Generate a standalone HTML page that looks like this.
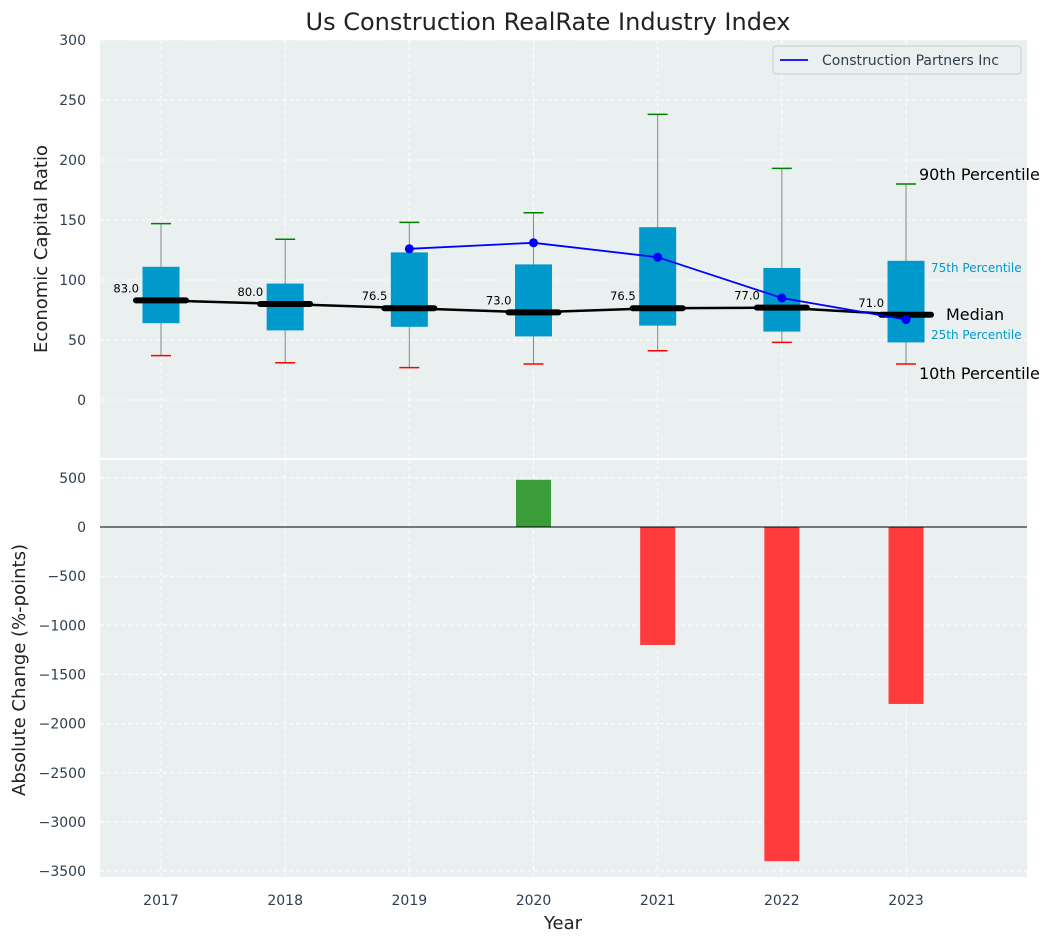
<!DOCTYPE html>
<html><head><meta charset="utf-8"><style>
body{margin:0;background:#fff;}
svg text{font-family:"DejaVu Sans","Liberation Sans",sans-serif;}
</style></head><body>
<svg id="chart" width="1054" height="942" xmlns="http://www.w3.org/2000/svg"></svg>
<script>
const years=[2017,2018,2019,2020,2021,2022,2023];
const p10=[37,31,27,30,41,48,30];
const q1=[64,58,61,53,62,57,48];
const med=[83,80,76.5,73,76.5,77,71];
const q3=[111,97,123,113,144,110,116];
const p90=[147,134,148,156,238,193,180];
const compYears=[2019,2020,2021,2022,2023];
const compVals=[126,131,119,85,67];
const chgYears=[2020,2021,2022,2023];
const chgVals=[480,-1200,-3400,-1800];
const topTicks=[0,50,100,150,200,250,300];
const botTicks=[500,0,-500,-1000,-1500,-2000,-2500,-3000,-3500];

const NS='http://www.w3.org/2000/svg';
const svg=document.getElementById('chart');
function el(t,a,p){const e=document.createElementNS(NS,t);for(const k in a)e.setAttribute(k,a[k]);(p||svg).appendChild(e);return e;}
const L=100,R=1027;
const x=v=>161+(v-2017)*124.17;
const yT=v=>400-v*1.2;
const yB=v=>527-v*0.0983;

// backgrounds
let e=el('rect',{x:L,y:40,width:R-L,height:418,fill:'#eaeff0'});

e=el('rect',{x:L,y:460,width:R-L,height:417,fill:'#eaeff0'});


// grids
years.forEach(v=>{
 el('line',{x1:x(v),x2:x(v),y1:40,y2:458,stroke:'#fff','stroke-dasharray':'4,3'});
 el('line',{x1:x(v),x2:x(v),y1:460,y2:877,stroke:'#fff','stroke-dasharray':'4,3'});
 e=el('text',{x:x(v),y:905,'text-anchor':'middle','font-size':14,fill:'#2d3e50'});e.textContent=v;
 
});
topTicks.forEach(v=>{
 el('line',{x1:L,x2:R,y1:yT(v),y2:yT(v),stroke:'#fff','stroke-dasharray':'4,3'});
 e=el('text',{x:86,y:yT(v)+5,'text-anchor':'end','font-size':14,fill:'#2d3e50'});e.textContent=v;
 
});
botTicks.forEach(v=>{
 el('line',{x1:L,x2:R,y1:yB(v),y2:yB(v),stroke:'#fff','stroke-dasharray':'4,3'});
 e=el('text',{x:86,y:yB(v)+5,'text-anchor':'end','font-size':14,fill:'#2d3e50'});e.textContent=String(v).replace('-','\u2212');
 
});

// boxes
years.forEach((v,i)=>{
 const cx=x(v);
 e=el('line',{x1:cx,x2:cx,y1:yT(p10[i]),y2:yT(p90[i]),stroke:'#888','stroke-width':1});
 
 e=el('rect',{x:cx-18.5,y:yT(q3[i]),width:37,height:yT(q1[i])-yT(q3[i]),fill:'#0099cc'});
 
 e=el('line',{x1:cx-10,x2:cx+10,y1:yT(p90[i]),y2:yT(p90[i]),stroke:'green','stroke-width':1.5});
 
 e=el('line',{x1:cx-10,x2:cx+10,y1:yT(p10[i]),y2:yT(p10[i]),stroke:'red','stroke-width':1.5});
 
});
// median line
e=el('polyline',{points:years.map((v,i)=>x(v)+','+yT(med[i])).join(' '),fill:'none',stroke:'#000','stroke-width':2.5});

years.forEach((v,i)=>{
 const cx=x(v),cy=yT(med[i]);
 e=el('line',{x1:cx-25,x2:cx+25,y1:cy,y2:cy,stroke:'#000','stroke-width':6,'stroke-linecap':'round'});
 
 e=el('text',{x:cx-22,y:cy-8,'text-anchor':'end','font-size':11.5,fill:'#000'});e.textContent=med[i].toFixed(1);
 
});
// company line
e=el('polyline',{points:compYears.map((v,i)=>x(v)+','+yT(compVals[i])).join(' '),fill:'none',stroke:'blue','stroke-width':1.8});

compYears.forEach((v,i)=>{
 e=el('circle',{cx:x(v),cy:yT(compVals[i]),r:4.5,fill:'blue'});
 
});
// annotations
const ann=[[919,180,'90th Percentile',16,'#000'],[931,272,'75th Percentile',12,'#0099cc'],[946,320,'Median',16,'#000'],[931,339,'25th Percentile',12,'#0099cc'],[919,379,'10th Percentile',16,'#000']];
ann.forEach(a=>{e=el('text',{x:a[0],y:a[1],'font-size':a[3],fill:a[4]});e.textContent=a[2];
 });

// legend
e=el('rect',{x:773,y:46,width:248,height:28,fill:'#eaeff0',stroke:'#ccc',rx:3});

el('line',{x1:780,x2:808,y1:60,y2:60,stroke:'blue','stroke-width':1.8});
e=el('text',{x:822,y:65,'font-size':14,fill:'#2d3e50'});e.textContent='Construction Partners Inc';


// change bars
chgYears.forEach((v,i)=>{
 const val=chgVals[i];const y0=yB(0),y1=yB(val);
 e=el('rect',{x:x(v)-17.5,y:Math.min(y0,y1),width:35,height:Math.abs(y1-y0),fill:val>=0?'#3a9d3a':'#ff3b3b'});
 
});
el('line',{x1:L,x2:R,y1:yB(0),y2:yB(0),stroke:'#000','stroke-width':1});

// titles
e=el('text',{x:548,y:30,'text-anchor':'middle','font-size':24,fill:'#222'});e.textContent='Us Construction RealRate Industry Index';

e=el('text',{x:0,y:0,'text-anchor':'middle','font-size':18,fill:'#222',transform:'translate(47,249) rotate(-90)'});e.textContent='Economic Capital Ratio';

e=el('text',{x:0,y:0,'text-anchor':'middle','font-size':18,fill:'#222',transform:'translate(25,670) rotate(-90)'});e.textContent='Absolute Change (%-points)';

e=el('text',{x:563,y:929,'text-anchor':'middle','font-size':18,fill:'#222'});e.textContent='Year';

</script>
</body></html>
